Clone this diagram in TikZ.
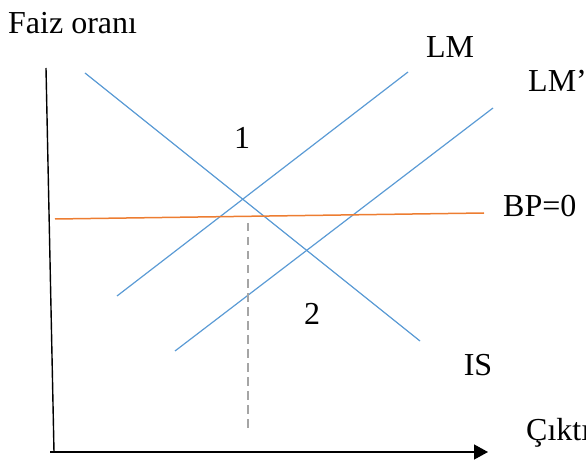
\documentclass[tikz,border=0pt]{standalone}
\usepackage{fontspec}
\setmainfont{Liberation Serif}
\usetikzlibrary{arrows.meta}
\definecolor{curveblue}{HTML}{5B9BD5}
\definecolor{bporange}{HTML}{ED7D31}
\definecolor{dashgray}{HTML}{A5A5A5}
\tikzset{
  lbl/.style={inner sep=0pt, font=\fontsize{32}{36}\selectfont},
  curve/.style={draw=curveblue, line width=1.2pt},
  bpline/.style={draw=bporange, line width=1.5pt},
  axis/.style={draw=black, line width=1.4pt},
  guide/.style={draw=dashgray, line width=1.8pt, dash pattern=on 8.5pt off 5.5pt}
}
\begin{document}
\begin{tikzpicture}[x=1pt,y=-1pt]
\useasboundingbox (0,0) rectangle (586,462);
% axes
\coordinate (ytop) at (46,68);
\coordinate (origin) at (54,452);
\coordinate (xstart) at (50,452);
\coordinate (xend) at (488,452);
\draw[axis] (ytop) -- (origin);
\draw[axis, -{Triangle[length=14pt,width=15pt]}] (xstart) -- (xend);
% curves
\coordinate (is1) at (85,73);
\coordinate (is2) at (420,341);
\coordinate (lm1) at (117,296);
\coordinate (lm2) at (408,72);
\coordinate (lmp1) at (175,351);
\coordinate (lmp2) at (493,108);
\coordinate (bp1) at (55,219);
\coordinate (bp2) at (484,213);
\coordinate (d1) at (248,223);
\coordinate (d2) at (248,428);
\draw[curve] (is1) -- (is2);
\draw[curve] (lm1) -- (lm2);
\draw[curve] (lmp1) -- (lmp2);
\draw[bpline] (bp1) -- (bp2);
\draw[guide] (d1) -- (d2);
% labels
\node[lbl, anchor=west] (faiz) at (8,23) {Faiz oranı};
\node[lbl, anchor=west] (cikti) at (526,433) {Çıktı};
\node[lbl] (lmlabel) at (450,47) {LM};
\node[lbl, anchor=west] (lmplabel) at (528,81) {LM’};
\node[lbl, anchor=west] (bplabel) at (503,206) {BP=0};
\node[lbl] (islabel) at (478,365) {IS};
\node[lbl] (one) at (242,138) {1};
\node[lbl] (two) at (312,314) {2};
\end{tikzpicture}
\end{document}
